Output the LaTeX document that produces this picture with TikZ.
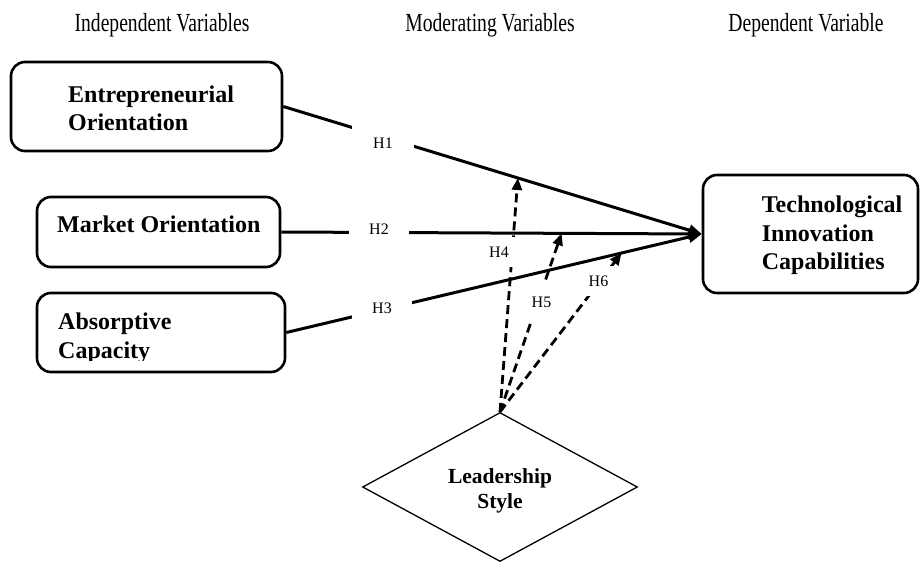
\documentclass[tikz,border=0pt]{standalone}
\usepackage{fontspec}
\setmainfont{Liberation Serif}
\usetikzlibrary{arrows.meta,shapes.geometric}
\begin{document}
\begin{tikzpicture}[x=1pt,y=-1pt,
  varbox/.style={draw, line width=2.6pt, rounded corners=14pt, inner sep=0pt},
  vartxt/.style={font=\fontsize{24}{28.3}\selectfont\bfseries, align=left, inner sep=0pt, anchor=west},
  headtxt/.style={font=\fontsize{19.6}{22}\selectfont, inner sep=0pt, anchor=base},
  conn/.style={line width=3pt, -{Triangle[length=13pt,width=11pt]}},
  modl/.style={line width=2.8pt, dash pattern=on 9pt off 5pt, -{Triangle[length=12pt,width=10pt]}},
  hlab/.style={fill=white, inner sep=0pt, font=\fontsize{16}{16}\selectfont}]
\useasboundingbox (0,0) rectangle (920,562);

% headers
\node[headtxt] (hIV) at (162,31.5) {\scalebox{1}[1.33]{Independent Variables}};
\node[headtxt] (hMV) at (490,31.5) {\scalebox{1}[1.33]{Moderating Variables}};
\node[headtxt] (hDV) at (806,31.5) {\scalebox{1}[1.33]{Dependent Variable}};

% boxes
\node[varbox, minimum width=271pt, minimum height=89pt] (eo) at (146.5,106.5) {};
\node[varbox, minimum width=243pt, minimum height=70pt] (mo) at (158.5,232) {};
\node[varbox, minimum width=248pt, minimum height=79pt] (ac) at (161,332.5) {};
\node[varbox, minimum width=215pt, minimum height=118pt] (tic) at (810.5,234) {};
\node[draw, diamond, aspect=1.85, minimum width=275pt, minimum height=149pt,
      line width=1.3pt, inner sep=0pt] (ls) at (500,487) {};

% box texts
\node[vartxt] (eot) at (68,108) {Entrepreneurial\\Orientation};
\node[vartxt] (mot) at (57,224.5) {Market Orientation};
\begin{scope}
  \clip (37,290) rectangle (285,360.5);
  \node[vartxt] (act) at (58,338.4) {Absorptive\\Capacity};
\end{scope}
\node[vartxt] (tict) at (761.7,235.4) {Technological\\Innovation\\Capabilities};
\node[font=\fontsize{21.5}{24.3}\selectfont\bfseries, align=center, inner sep=0pt] (lst) at (500,491) {Leadership\\Style};

% main connectors
\draw[conn] (eo.east) -- (tic.west) coordinate[pos=0.5606] (m1);
\draw[conn] (mo.east) -- (tic.west) coordinate[pos=0.6667] (m2);
\draw[conn] (ac.east) -- (tic.west) coordinate[pos=0.807] (m3);

% moderating connectors
\draw[modl] (ls.north) -- (m1);
\draw[modl] (ls.north) -- (m2);
\draw[modl] (ls.north) -- (m3);

% hypothesis labels
\node[hlab, minimum width=62pt, minimum height=34pt] (h1) at (383,143) {H1};
\node[hlab, minimum width=60pt, minimum height=22pt] (h2) at (379,229) {H2};
\node[hlab, minimum width=60pt, minimum height=32pt] (h3) at (382,308.5) {H3};
\node[hlab, minimum width=36pt, minimum height=30pt] (h4) at (499,252) {H4};
\node[hlab, minimum width=36pt, minimum height=40pt] (h5) at (541.5,302) {H5};
\node[hlab, minimum width=40pt, minimum height=30pt] (h6) at (598.5,281) {H6};
\end{tikzpicture}
\end{document}
